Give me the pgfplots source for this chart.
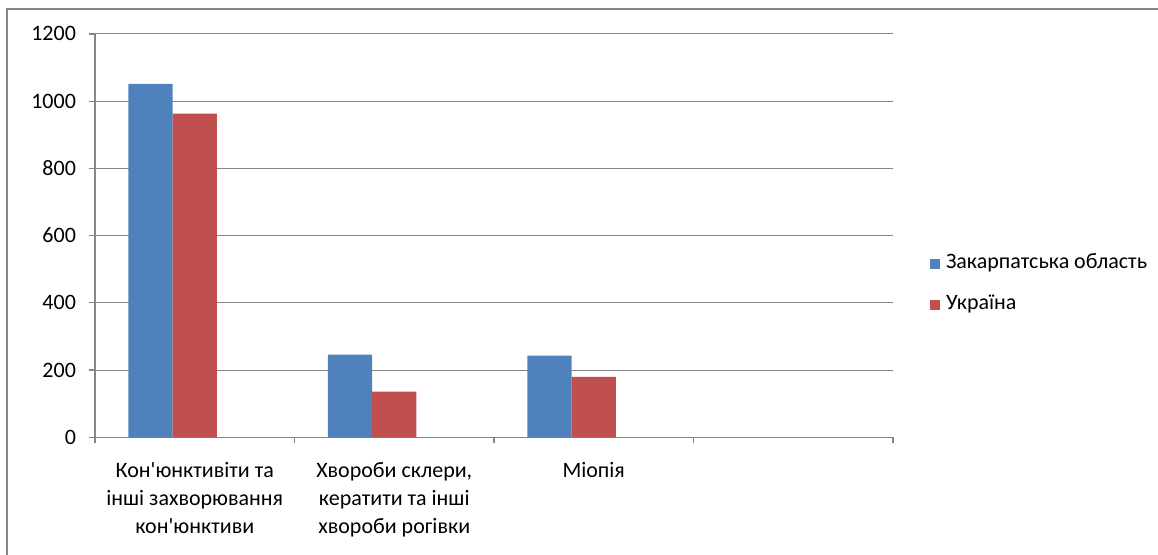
\documentclass[border=0pt]{standalone}
\usepackage{fontspec}
\setmainfont{Carlito}[Ligatures=TeXOff]
\usepackage{pgfplots}
\pgfplotsset{compat=1.18}
\definecolor{cblue}{HTML}{4F81BD}
\definecolor{cred}{HTML}{C0504D}
\definecolor{cgrid}{HTML}{868686}
\begin{document}
\begin{tikzpicture}
\useasboundingbox (0,0) rectangle (579pt,277pt);
\draw[cgrid, line width=1pt] (3.5pt,-5pt) -- (3.5pt,272.5pt) -- (585pt,272.5pt);
\begin{axis}[
  at={(47.5pt,58.35pt)}, anchor=south west,
  scale only axis, width=399pt, height=201.7pt,
  xmin=-0.5, xmax=3.5, ymin=0, ymax=1200,
  axis x line*=bottom, axis y line*=left,
  axis line style={cgrid, line width=0.6pt, -},
  tick align=outside, major tick length=3pt,
  tick style={cgrid, line width=0.6pt},
  ytick={0,200,...,1200},
  ymajorgrids, grid style={cgrid, line width=0.5pt},
  xtick={-0.5,0.5,1.5,2.5,3.5}, xticklabels={},
  extra x ticks={0,1,2},
  extra x tick labels={{Кон'юнктивіти та\\інші захворювання\\кон'юнктиви}, {Хвороби склери,\\кератити та інші\\хвороби рогівки}, {Міопія}},
  extra x tick style={major tick length=0pt, grid=none,
    xticklabel style={align=center, anchor=north, yshift=-9pt,
      font=\fontsize{11}{14}\selectfont}},
  /pgf/number format/assume math mode=true,
  /pgf/number format/1000 sep={},
  yticklabel style={font=\fontsize{11}{12}\selectfont, xshift=-3pt},
  scaled y ticks=false,
  legend style={at={(1.0464,0.379)}, anchor=west, draw=none, fill=none,
    inner sep=0pt, row sep=9.5pt,
    nodes={inner sep=1pt, text height=7pt, text depth=2pt, font=\fontsize{11}{12}\selectfont},
    /tikz/every odd column/.append style={column sep=2.2pt}},
  legend cell align=left,
  legend image code/.code={\fill[#1] (0pt,-2.3pt) rectangle (4.6pt,2.3pt);},
]
\addplot[ybar, bar width=0.2222, bar shift=-0.2222, fill=cblue, draw=none] coordinates {(0,1051) (1,246) (2,243)};
\addlegendentry{Закарпатська область}
\addplot[ybar, bar width=0.2222, bar shift=0, fill=cred, draw=none] coordinates {(0,963) (1,136) (2,180)};
\addlegendentry{Україна}
\end{axis}
\end{tikzpicture}
\end{document}
